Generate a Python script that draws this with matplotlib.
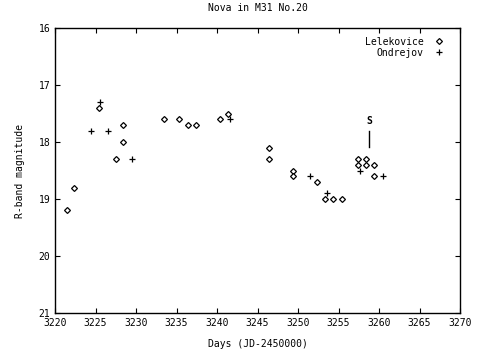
import matplotlib
matplotlib.use("Agg")
import matplotlib.pyplot as plt

lel_x = [3221.5, 3222.4, 3225.4, 3227.5, 3228.4, 3228.4, 3233.5, 3235.3, 3236.4, 3237.4,
         3240.4, 3241.4, 3246.4, 3246.4, 3249.4, 3249.4, 3252.3, 3253.3, 3254.3, 3255.4,
         3257.4, 3257.4, 3258.4, 3258.4, 3259.4, 3259.4]
lel_y = [19.2, 18.8, 17.4, 18.3, 18.0, 17.7, 17.6, 17.6, 17.7, 17.7,
         17.6, 17.5, 18.1, 18.3, 18.5, 18.6, 18.7, 19.0, 19.0, 19.0,
         18.3, 18.4, 18.3, 18.4, 18.4, 18.6]
ond_x = [3224.5, 3225.5, 3226.6, 3229.5, 3241.6, 3251.5, 3253.6, 3257.6, 3260.5]
ond_y = [17.8, 17.3, 17.8, 18.3, 17.6, 18.6, 18.9, 18.5, 18.6]
s_x = 3258.8
s_y_top, s_y_bot = 17.8, 18.08

plt.rcParams['font.family'] = ['DejaVu Sans Mono']
fig = plt.figure(figsize=(4.8, 3.56), dpi=100)
ax = fig.add_axes([0.1146, 0.1208, 0.8438, 0.8005])

ax.plot(lel_x, lel_y, linestyle='none', marker='D', markersize=3, markerfacecolor='white',
        markeredgecolor='black', markeredgewidth=0.9, label='Lelekovice')
ax.plot(ond_x, ond_y, linestyle='none', marker='+', markersize=4.5, color='black',
        markeredgewidth=0.9, label='Ondrejov')
ax.plot([s_x, s_x], [s_y_top, s_y_bot], color='black', lw=1)
ax.text(s_x, s_y_top - 0.08, 'S', ha='center', va='bottom', fontsize=7, fontweight='bold')

ax.set_xlim(3220, 3270)
ax.set_ylim(21, 16)
ax.set_xticks(range(3220, 3271, 5))
ax.set_yticks(range(16, 22))
ax.tick_params(direction='in', top=True, right=True, labelsize=7, length=3.5, width=0.8)
for s in ax.spines.values():
    s.set_linewidth(1)
ax.set_xlabel('Days (JD-2450000)', fontsize=7, labelpad=8)
ax.set_ylabel('R-band magnitude', fontsize=7, labelpad=10)
ax.set_title('Nova in M31 No.20', fontsize=7, pad=12)
ax.legend(loc='upper right', bbox_to_anchor=(1 - 0.022, 1 - 0.007), frameon=False,
          markerfirst=False, fontsize=7,
          handlelength=1.0, handletextpad=1.15, borderaxespad=0.3, labelspacing=0.1)
fig.savefig('out.png', dpi=100)
